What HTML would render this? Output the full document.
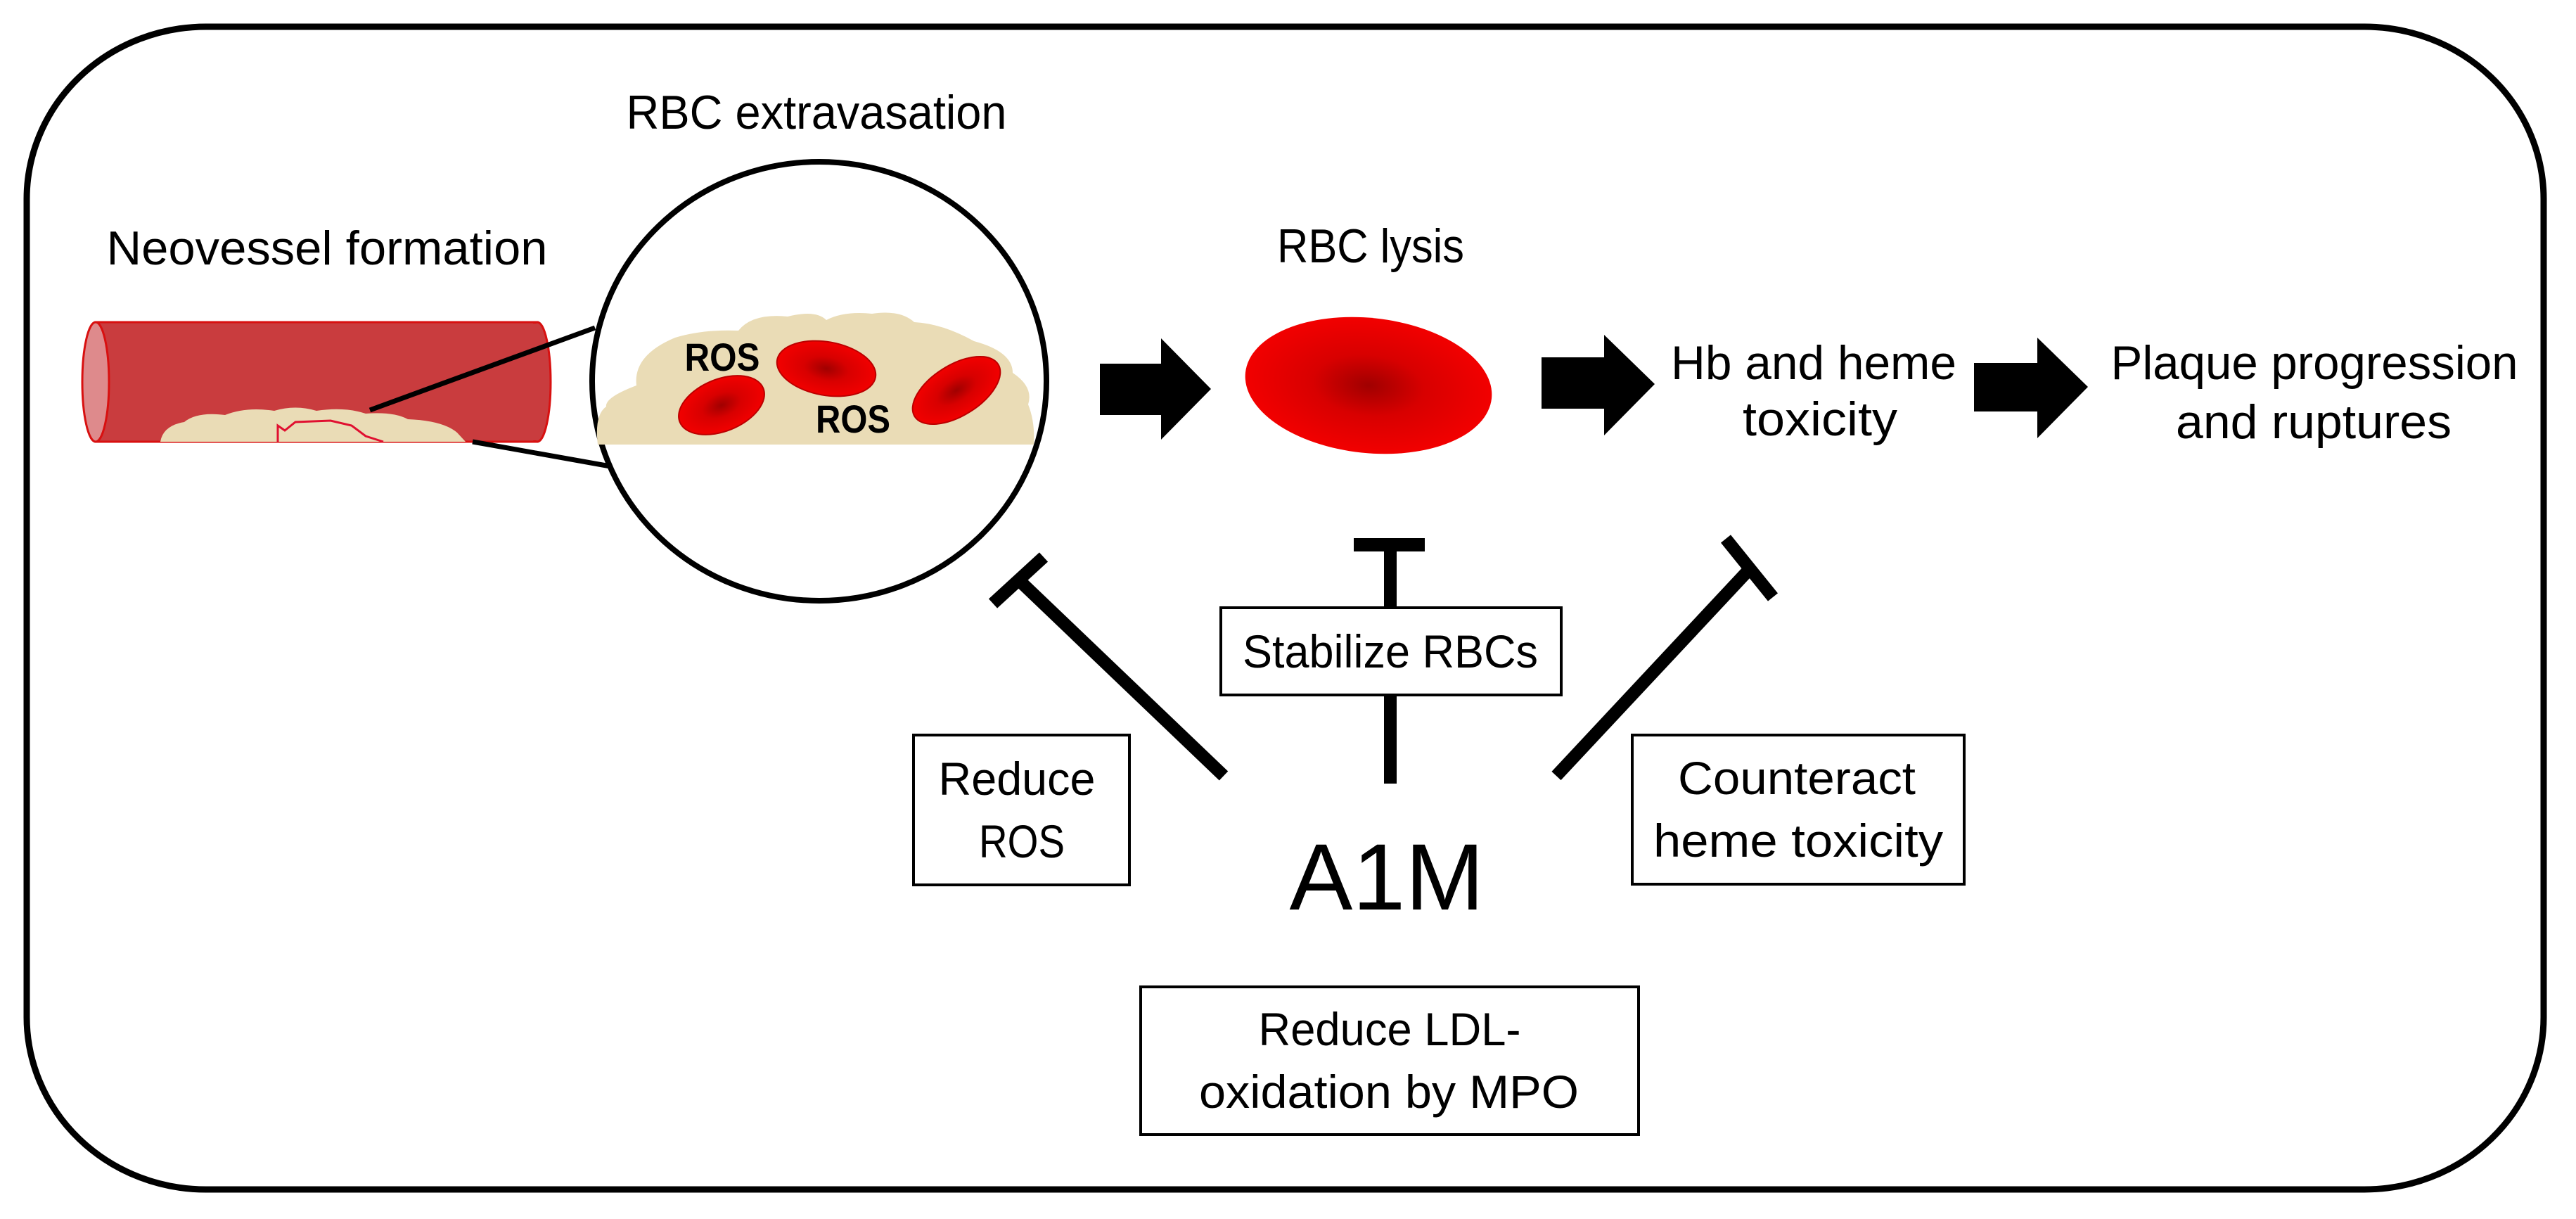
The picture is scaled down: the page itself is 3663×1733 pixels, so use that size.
<!DOCTYPE html>
<html><head><meta charset="utf-8"><style>
html,body{margin:0;padding:0;background:#fff;}
svg{display:block;}
text{font-family:"Liberation Sans",sans-serif;fill:#000;}
</style></head><body>
<svg width="3663" height="1733" viewBox="0 0 3663 1733" xmlns="http://www.w3.org/2000/svg">
<defs>
<radialGradient id="rbc" cx="50%" cy="50%" r="50%">
<stop offset="0" stop-color="#a00000"/><stop offset="0.45" stop-color="#d80000"/><stop offset="1" stop-color="#f20000"/>
</radialGradient>
</defs>
<rect x="38" y="38" width="3579" height="1653" rx="255" ry="245" fill="none" stroke="#000" stroke-width="9"/>

<text x="465" y="376" font-size="68" text-anchor="middle" textLength="627" lengthAdjust="spacingAndGlyphs">Neovessel formation</text>
<text x="1161" y="183" font-size="68" text-anchor="middle" textLength="541" lengthAdjust="spacingAndGlyphs">RBC extravasation</text>

<!-- vessel -->
<rect x="136" y="458" width="628" height="170" fill="#c93c3e" stroke="#d81010" stroke-width="3"/>
<ellipse cx="764" cy="543" rx="19" ry="85" fill="#c93c3e" stroke="#d81010" stroke-width="3"/>
<rect x="140" y="460" width="624" height="166" fill="#c93c3e"/>
<ellipse cx="136" cy="543" rx="19" ry="85" fill="#de8a8c" stroke="#d81010" stroke-width="3"/>
<path d="M228 628 Q232 605 262 600 Q280 585 320 590 Q350 578 390 584 Q420 575 450 584 Q490 578 520 588 Q560 585 580 596 Q630 598 650 615 L662 628 Z" fill="#eadcb6"/>
<path d="M395 628 L395 605 L405 612 L420 600 L470 598 L500 605 L520 620 L545 628" fill="none" stroke="#e01030" stroke-width="3"/>

<line x1="526" y1="583" x2="846" y2="466" stroke="#000" stroke-width="7"/>
<line x1="672" y1="628" x2="868" y2="663" stroke="#000" stroke-width="7"/>

<!-- zoom circle -->
<ellipse cx="1165" cy="542" rx="323" ry="312" fill="#fff" stroke="#000" stroke-width="8"/>
<path d="M850 632 Q845 590 862 578 Q860 565 905 548 Q900 505 960 480 Q1000 468 1050 470 Q1070 445 1120 450 Q1160 440 1175 455 Q1200 442 1240 446 Q1280 440 1300 458 Q1340 460 1385 485 Q1440 500 1440 530 Q1470 550 1462 575 Q1472 600 1470 632 Z" fill="#eadcb6"/>
<ellipse cx="1026" cy="576" rx="64" ry="37" transform="rotate(-22 1026 576)" fill="url(#rbc)" stroke="#b00" stroke-width="2"/>
<ellipse cx="1175" cy="524" rx="71" ry="38" transform="rotate(10 1175 524)" fill="url(#rbc)" stroke="#b00" stroke-width="2"/>
<ellipse cx="1360" cy="555" rx="70" ry="36" transform="rotate(-32 1360 555)" fill="url(#rbc)" stroke="#b00" stroke-width="2"/>
<text x="1027" y="527" font-size="56" font-weight="bold" text-anchor="middle" textLength="107" lengthAdjust="spacingAndGlyphs">ROS</text>
<text x="1213" y="615" font-size="56" font-weight="bold" text-anchor="middle" textLength="106" lengthAdjust="spacingAndGlyphs">ROS</text>

<!-- arrows -->
<polygon points="1564,517 1651,517 1651,481 1722,553 1651,625 1651,590 1564,590" fill="#000"/>
<polygon points="2192,508 2281,508 2281,476 2353,546 2281,619 2281,581 2192,581" fill="#000"/>
<polygon points="2807,516 2897,516 2897,480 2969,550 2897,623 2897,585 2807,585" fill="#000"/>

<text x="1949" y="373" font-size="68" text-anchor="middle" textLength="266" lengthAdjust="spacingAndGlyphs">RBC lysis</text>
<ellipse cx="1946" cy="548" rx="176" ry="96" transform="rotate(6 1946 548)" fill="url(#rbc)"/>

<text x="2579" y="539" font-size="68" text-anchor="middle" textLength="406" lengthAdjust="spacingAndGlyphs">Hb and heme</text>
<text x="2588" y="619" font-size="68" text-anchor="middle" textLength="220" lengthAdjust="spacingAndGlyphs">toxicity</text>
<text x="3291" y="539" font-size="68" text-anchor="middle" textLength="579" lengthAdjust="spacingAndGlyphs">Plaque progression</text>
<text x="3290" y="623" font-size="68" text-anchor="middle" textLength="392" lengthAdjust="spacingAndGlyphs">and ruptures</text>

<!-- inhibitors -->
<g stroke="#000" stroke-width="18" fill="none">
<line x1="1740" y1="1103" x2="1448" y2="824"/>
<line x1="1412" y1="858" x2="1484" y2="792"/>
<line x1="1977" y1="783" x2="1977" y2="864"/>
<line x1="1977" y1="988" x2="1977" y2="1114"/>
<line x1="2213" y1="1103" x2="2486" y2="811"/>
<line x1="2454" y1="766" x2="2521" y2="849"/>
</g>
<rect x="1925" y="765" width="101" height="19" fill="#000"/>

<!-- boxes -->
<g fill="#fff" stroke="#000" stroke-width="4">
<rect x="1736" y="864" width="484" height="124"/>
<rect x="1299" y="1045" width="307" height="213"/>
<rect x="2321" y="1045" width="472" height="212"/>
<rect x="1622" y="1403" width="708" height="210"/>
</g>
<text x="1977" y="949" font-size="66" text-anchor="middle" textLength="420" lengthAdjust="spacingAndGlyphs">Stabilize RBCs</text>
<text x="1446" y="1130" font-size="66" text-anchor="middle" textLength="223" lengthAdjust="spacingAndGlyphs">Reduce</text>
<text x="1453" y="1219" font-size="66" text-anchor="middle" textLength="122" lengthAdjust="spacingAndGlyphs">ROS</text>
<text x="2555" y="1129" font-size="66" text-anchor="middle" textLength="338" lengthAdjust="spacingAndGlyphs">Counteract</text>
<text x="2557" y="1218" font-size="66" text-anchor="middle" textLength="412" lengthAdjust="spacingAndGlyphs">heme toxicity</text>
<text x="1976" y="1486" font-size="66" text-anchor="middle" textLength="373" lengthAdjust="spacingAndGlyphs">Reduce LDL-</text>
<text x="1975" y="1575" font-size="66" text-anchor="middle" textLength="540" lengthAdjust="spacingAndGlyphs">oxidation by MPO</text>

<text x="1972" y="1293" font-size="134" text-anchor="middle" textLength="277" lengthAdjust="spacingAndGlyphs">A1M</text>
</svg>
</body></html>
